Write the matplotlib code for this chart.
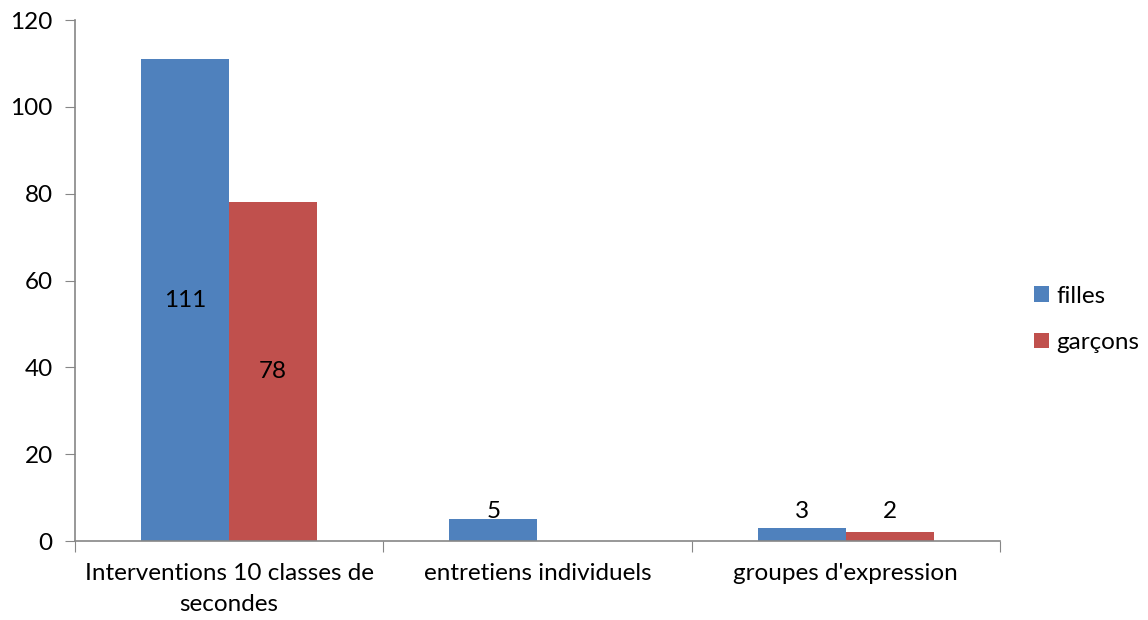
import matplotlib
matplotlib.use("Agg")
import matplotlib.pyplot as plt
import numpy as np

# data
categories = ["Interventions 10 classes de\nsecondes", "entretiens individuels", "groupes d'expression"]
series_names = ["filles", "garçons"]
filles = [111, 5, 3]
garcons = [78, 0, 2]

BLUE = "#4F81BD"
RED = "#C0504D"
AXIS_GREY = "#868686"

plt.rcParams['font.family'] = ['Lato', 'DejaVu Sans']
FS = 17.5

fig = plt.figure(figsize=(11.48, 6.2), dpi=100)
ax = fig.add_axes([0.0653, 0.1274, 0.8057, 0.8403])

x = np.arange(len(categories))
w = 0.286
ax.bar(x - w / 2, filles, w, color=BLUE, label=series_names[0])
ax.bar(x + w / 2, garcons, w, color=RED, label=series_names[1])

# data labels: inside centre for big bars, just above for small ones
for xs, vals in ((x - w / 2, filles), (x + w / 2, garcons)):
    for xi, v in zip(xs, vals):
        if v == 0:
            continue
        y = v / 2 if v > 20 else 6.7
        ax.text(xi, y, str(v), ha="center", va="center", fontsize=FS, color="black")

ax.set_xlim(-0.5, 2.5)
ax.set_ylim(0, 120)
ax.set_yticks(range(0, 121, 20))
ax.tick_params(axis="y", labelsize=FS, length=7, color=AXIS_GREY, pad=9)

# category boundaries carry the x tick marks, labels sit in the middle
ax.set_xticks(np.arange(-0.5, 3, 1))
ax.set_xticklabels([])
ax.tick_params(axis="x", length=8, color=AXIS_GREY)
ax.set_xticks(x, minor=True)
ax.set_xticklabels(categories, minor=True, fontsize=FS, linespacing=1.6)
ax.tick_params(axis="x", which="minor", length=0, pad=16)

for side in ("top", "right"):
    ax.spines[side].set_visible(False)
for side in ("left", "bottom"):
    ax.spines[side].set_color(AXIS_GREY)
    ax.spines[side].set_linewidth(1.2)

leg = fig.legend(loc="center left", bbox_to_anchor=(0.882, 0.485), frameon=False,
                 fontsize=FS, handlelength=0.6, handleheight=0.6, handletextpad=0.3,
                 labelspacing=1.05)

fig.savefig("out.png", dpi=100)
